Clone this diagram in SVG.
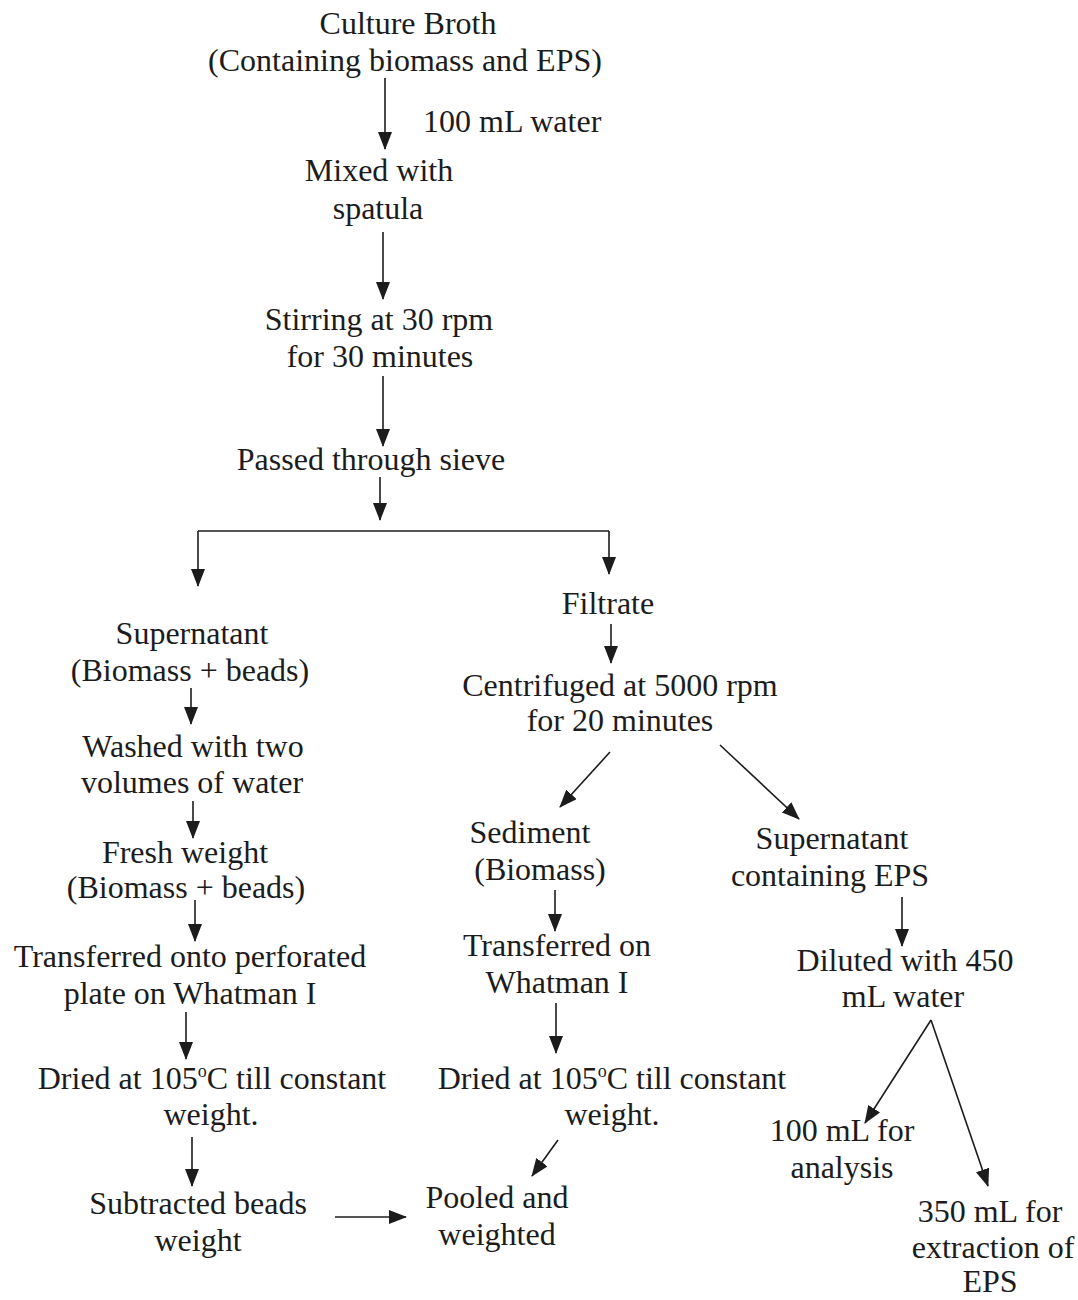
<svg xmlns="http://www.w3.org/2000/svg" width="1078" height="1300" viewBox="0 0 1078 1300">
<style>
  text { font-family: "Liberation Serif", "Times New Roman", serif; font-size: 32px; fill: #1c1c1c; text-anchor: middle; }
  .l { text-anchor: start; }
  .sup { font-size: 18px; }
  .c line, .c polyline { stroke: #1c1c1c; stroke-width: 1.6; fill: none; }
</style>
<defs>
  <marker id="ah" viewBox="0 0 18 14" refX="17" refY="7" markerWidth="18" markerHeight="14" markerUnits="userSpaceOnUse" orient="auto">
    <path d="M0,0 L18,7 L0,14 z" fill="#1c1c1c"/>
  </marker>
</defs>
<rect width="1078" height="1300" fill="#ffffff"/>

<g id="n-culture"><text x="408" y="34">Culture Broth</text><text x="405" y="71">(Containing biomass and EPS)</text></g>
<g id="l-water"><text class="l" x="423" y="132">100 mL water</text></g>
<g id="n-mixed"><text x="379" y="181">Mixed with</text><text x="378" y="219">spatula</text></g>
<g id="n-stirring"><text x="379" y="330">Stirring at 30 rpm</text><text x="380" y="367">for 30 minutes</text></g>
<g id="n-sieve"><text x="371" y="470">Passed through sieve</text></g>

<g id="n-supernatant1"><text x="192" y="644">Supernatant</text><text x="190" y="681">(Biomass + beads)</text></g>
<g id="n-washed"><text x="193" y="757">Washed with two</text><text x="192" y="793">volumes of water</text></g>
<g id="n-fresh"><text x="185" y="863">Fresh weight</text><text x="186" y="898">(Biomass + beads)</text></g>
<g id="n-transferred1"><text x="190" y="967">Transferred onto perforated</text><text x="190" y="1004">plate on Whatman I</text></g>
<g id="n-dried1"><text x="212" y="1089">Dried at 105<tspan class="sup" dy="-12">o</tspan><tspan dy="12">C till constant</tspan></text><text x="211" y="1125">weight.</text></g>
<g id="n-subtracted"><text x="198" y="1214">Subtracted beads</text><text x="198" y="1251">weight</text></g>

<g id="n-filtrate"><text x="608" y="614">Filtrate</text></g>
<g id="n-centrifuged"><text x="620" y="696">Centrifuged at 5000 rpm</text><text x="620" y="731">for 20 minutes</text></g>
<g id="n-sediment"><text x="530" y="843">Sediment</text><text x="540" y="880">(Biomass)</text></g>
<g id="n-transferred2"><text x="557" y="956">Transferred on</text><text x="557" y="993">Whatman I</text></g>
<g id="n-dried2"><text x="612" y="1089">Dried at 105<tspan class="sup" dy="-12">o</tspan><tspan dy="12">C till constant</tspan></text><text x="612" y="1125">weight.</text></g>
<g id="n-pooled"><text x="497" y="1208">Pooled and</text><text x="497" y="1245">weighted</text></g>

<g id="n-supernatant2"><text x="832" y="849">Supernatant</text><text x="830" y="886">containing EPS</text></g>
<g id="n-diluted"><text x="905" y="971">Diluted with 450</text><text x="903" y="1007">mL water</text></g>
<g id="n-100ml"><text x="842" y="1141">100 mL for</text><text x="842" y="1178">analysis</text></g>
<g id="n-350ml"><text x="990" y="1222">350 mL for</text><text x="993" y="1258">extraction of</text><text x="990" y="1292">EPS</text></g>

<g id="connectors" class="c">
  <line x1="385" y1="78" x2="385" y2="149" marker-end="url(#ah)"/>
  <line x1="383" y1="232" x2="383" y2="299" marker-end="url(#ah)"/>
  <line x1="383" y1="376" x2="383" y2="446" marker-end="url(#ah)"/>
  <line x1="380" y1="477" x2="380" y2="520" marker-end="url(#ah)"/>
  <line x1="198" y1="531" x2="609" y2="531"/>
  <line x1="198" y1="531" x2="198" y2="586" marker-end="url(#ah)"/>
  <line x1="609" y1="531" x2="609" y2="574" marker-end="url(#ah)"/>
  <line x1="191" y1="688" x2="191" y2="724" marker-end="url(#ah)"/>
  <line x1="193" y1="801" x2="193" y2="838" marker-end="url(#ah)"/>
  <line x1="195" y1="900" x2="195" y2="941" marker-end="url(#ah)"/>
  <line x1="186" y1="1012" x2="186" y2="1059" marker-end="url(#ah)"/>
  <line x1="192" y1="1137" x2="192" y2="1186" marker-end="url(#ah)"/>
  <line x1="335" y1="1217" x2="406" y2="1217" marker-end="url(#ah)"/>
  <line x1="611" y1="624" x2="611" y2="663" marker-end="url(#ah)"/>
  <line x1="610" y1="752" x2="560" y2="807" marker-end="url(#ah)"/>
  <line x1="720" y1="745" x2="799" y2="819" marker-end="url(#ah)"/>
  <line x1="555" y1="890" x2="555" y2="931" marker-end="url(#ah)"/>
  <line x1="556" y1="1003" x2="556" y2="1053" marker-end="url(#ah)"/>
  <line x1="558" y1="1140" x2="532" y2="1176" marker-end="url(#ah)"/>
  <line x1="902" y1="897" x2="902" y2="946" marker-end="url(#ah)"/>
  <line x1="931" y1="1020" x2="865" y2="1123" marker-end="url(#ah)"/>
  <line x1="931" y1="1020" x2="988" y2="1186" marker-end="url(#ah)"/>
</g>
</svg>
